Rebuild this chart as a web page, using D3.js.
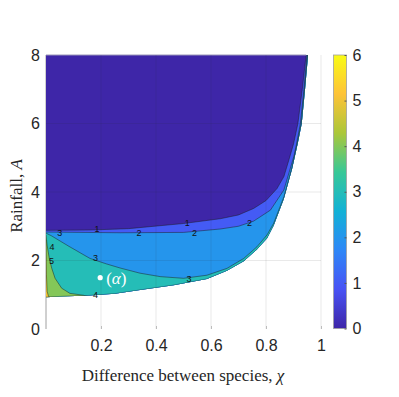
<!DOCTYPE html>
<html>
<head>
<meta charset="utf-8">
<script src="https://cdn.jsdelivr.net/npm/d3@7"></script>
<style>
  body { margin: 0; background: #fff; }
  svg { display: block; }
</style>
</head>
<body>
<svg width="399" height="397"></svg>
<script>
// Contour boundaries, [chi, A]
const lowerEdge = [[0, 0.93], [0.05, 0.95], [0.16, 0.98], [0.25, 1.03], [0.342, 1.14], [0.464, 1.28],
    [0.585, 1.46], [0.658, 1.7], [0.719, 1.98], [0.767, 2.32], [0.804, 2.65], [0.828, 3.02],
    [0.865, 3.8], [0.895, 4.68], [0.915, 5.4], [0.93, 6.0], [0.942, 7.0], [0.953, 8]];
const level1 = [[0, 2.88], [0.16, 2.89], [0.3, 2.93], [0.5, 3.08], [0.634, 3.22], [0.7, 3.33],
    [0.755, 3.52], [0.8, 3.75], [0.84, 4.1], [0.865, 4.45], [0.883, 4.93], [0.9, 5.4],
    [0.916, 6.0], [0.932, 7.0], [0.946, 8]];
const level2 = [[0, 2.83], [0.27, 2.81], [0.5, 2.82], [0.634, 2.92], [0.7, 3.0], [0.755, 3.15],
    [0.816, 3.47], [0.865, 4.06], [0.901, 5.03], [0.911, 5.4], [0.925, 6.0], [0.938, 7.0], [0.949, 8]];
const level3 = [[0, 2.8], [0.02, 2.72], [0.08, 2.43], [0.16, 2.06], [0.22, 1.9], [0.27, 1.78],
    [0.342, 1.63], [0.415, 1.53], [0.5, 1.48], [0.585, 1.57], [0.658, 1.77], [0.719, 2.06],
    [0.767, 2.4], [0.804, 2.75], [0.828, 3.09], [0.865, 3.86], [0.895, 4.74], [0.913, 5.4],
    [0.928, 6.0], [0.94, 7.0], [0.951, 8]];
const level4 = [[0, 2.75], [0.004, 2.45], [0.012, 2.06], [0.021, 1.77], [0.033, 1.48],
    [0.057, 1.19], [0.087, 1.04], [0.136, 0.985], [0.2, 0.85]];
const level5 = [[0, 2.6], [0.0015, 1.6], [0.004, 1.1], [0.009, 0.96], [0.02, 0.85]];
const levels = [level1, level2, level3, level4, level5];

// inline contour labels [chi, A, text]
const contourLabels = [[0.165, 2.92, "1"], [0.494, 3.1, "1"], [0.318, 2.79, "2"], [0.52, 2.8, "2"],
    [0.72, 3.1, "2"], [0.03, 2.8, "3"], [0.16, 2.06, "3"], [0.5, 1.46, "3"], [0.16, 0.98, "4"],
    [0.002, 2.4, "4"], [0.0, 2.0, "5"]];

const xTicks = [0.2, 0.4, 0.6, 0.8, 1];
const yTicks = [0, 2, 4, 6, 8];
const cbTicks = [0, 1, 2, 3, 4, 5, 6];

// parula anchors
const parula = [[62, 38, 168], [72, 82, 244], [46, 135, 247], [18, 177, 214],
    [55, 200, 151], [171, 199, 57], [254, 195, 56], [249, 251, 21]];

const svg = d3.select("svg");
const x = d3.scaleLinear().domain([0, 1]).range([46, 321]);
const y = d3.scaleLinear().domain([0, 8]).range([329, 55]);
const cb = d3.scaleLinear().domain([0, 6]).range([328.5, 55]);

const parulaAt = (t) => {
    const p = t * (parula.length - 1);
    const i = Math.min(Math.floor(p), parula.length - 2);
    const f = p - i;
    const c = parula[i].map((v, k) => Math.round(v + (parula[i + 1][k] - v) * f));
    return `rgb(${c[0]},${c[1]},${c[2]})`;
};

const line = d3.line().x(d => x(d[0])).y(d => y(d[1]));
const font = "'Liberation Sans', Arial, sans-serif";
const serif = "'Liberation Serif', 'Times New Roman', serif";

// clip to the region where the map is defined
const defs = svg.append("defs");
defs.append("clipPath").attr("id", "dom")
    .append("path")
    .attr("d", line(lowerEdge.concat([[0, 8]])) + "Z");

// y axis line underneath
svg.append("line")
    .attr("x1", x(0)).attr("x2", x(0))
    .attr("y1", y(0)).attr("y2", y(8))
    .attr("stroke", "#a0a0a0").attr("stroke-width", 1);

const map = svg.append("g").attr("clip-path", "url(#dom)");
map.append("rect")
    .attr("x", x(0)).attr("y", y(8))
    .attr("width", x(1) - x(0)).attr("height", y(0) - y(8))
    .attr("fill", parulaAt(0));

levels.forEach((pts, i) => {
    const first = pts[0], last = pts[pts.length - 1];
    const ring = pts.concat([[1.2, last[1]], [1.2, -1], [-0.1, -1], [-0.1, first[1]]]);
    map.append("path")
        .attr("d", line(ring) + "Z")
        .attr("fill", parulaAt((i + 1) / 6));
});

levels.forEach((pts) => {
    map.append("path")
        .attr("d", line(pts))
        .attr("fill", "none")
        .attr("stroke", "#1e1e1e")
        .attr("stroke-opacity", 0.8)
        .attr("stroke-width", 0.6);
});
map.append("path")
    .attr("d", line(lowerEdge))
    .attr("fill", "none")
    .attr("stroke", "#1e1e1e")
    .attr("stroke-opacity", 0.8)
    .attr("stroke-width", 0.6);

// top edge of the dark region
svg.append("line")
    .attr("x1", x(0)).attr("x2", x(level1[level1.length - 1][0]))
    .attr("y1", y(8)).attr("y2", y(8))
    .attr("stroke", "#9a96b8").attr("stroke-width", 1);

svg.append("g").selectAll("text")
    .data(contourLabels)
    .join("text")
    .attr("x", d => x(d[0]) + 3)
    .attr("y", d => y(d[1]) + 3)
    .attr("font-family", font)
    .attr("font-size", 9)
    .attr("fill", "#111")
    .text(d => d[2]);

// grid lines, faint, on top
const grid = svg.append("g").attr("stroke", "#262626").attr("stroke-opacity", 0.1);
xTicks.forEach(t => {
    grid.append("line").attr("x1", x(t)).attr("x2", x(t)).attr("y1", y(0)).attr("y2", y(8));
});
yTicks.slice(1, 4).forEach(t => {
    grid.append("line").attr("x1", x(0)).attr("x2", x(1)).attr("y1", y(t)).attr("y2", y(t));
});

// axes
const xAxis = svg.append("g")
    .attr("transform", `translate(0,${y(0)})`)
    .call(d3.axisBottom(x).tickValues(xTicks).tickSize(-3).tickPadding(11)
        .tickFormat(d3.format("")));
const yAxis = svg.append("g")
    .attr("transform", `translate(${x(0)},0)`)
    .call(d3.axisLeft(y).tickValues(yTicks).tickSize(0).tickPadding(6));
[xAxis, yAxis].forEach(a => {
    a.select(".domain").remove();
    a.selectAll("line").attr("stroke", "#bdbdbd");
    a.selectAll("text").attr("font-family", font).attr("font-size", 16).attr("fill", "#262626");
});

// axis titles
const xt = svg.append("text")
    .attr("x", 183).attr("y", 381)
    .attr("text-anchor", "middle")
    .attr("font-family", serif).attr("font-size", 17).attr("fill", "#262626");
xt.append("tspan").text("Difference between species, ");
xt.append("tspan").attr("font-style", "italic").text("χ");

const yt = svg.append("text")
    .attr("transform", "translate(22,196) rotate(-90)")
    .attr("text-anchor", "middle")
    .attr("font-family", serif).attr("font-size", 17).attr("fill", "#262626");
yt.append("tspan").text("Rainfall, ");
yt.append("tspan").attr("font-style", "italic").text("A");

// point (alpha)
svg.append("circle")
    .attr("cx", x(0.197)).attr("cy", y(1.5)).attr("r", 2.6)
    .attr("fill", "#fff");
const al = svg.append("text")
    .attr("x", x(0.197) + 6).attr("y", y(1.5) + 6)
    .attr("font-family", serif).attr("font-size", 17).attr("fill", "#fff");
al.append("tspan").text("(");
al.append("tspan").attr("font-style", "italic").text("α");
al.append("tspan").text(")");

// colorbar
const grad = defs.append("linearGradient").attr("id", "parula")
    .attr("x1", 0).attr("y1", 1).attr("x2", 0).attr("y2", 0);
d3.range(0, 1.0001, 1 / 28).forEach(t => {
    grad.append("stop").attr("offset", t).attr("stop-color", parulaAt(t));
});
svg.append("rect")
    .attr("x", 333.5).attr("y", cb(6))
    .attr("width", 13).attr("height", cb(0) - cb(6))
    .attr("fill", "url(#parula)")
    .attr("stroke", "#a0a0a0").attr("stroke-width", 0.8);
const cAxis = svg.append("g")
    .attr("transform", "translate(346.5,0)")
    .call(d3.axisRight(cb).tickValues(cbTicks).tickSize(-2).tickPadding(6)
        .tickFormat(d3.format("d")));
cAxis.select(".domain").remove();
cAxis.selectAll("line").attr("stroke", "#555");
cAxis.selectAll("text").attr("font-family", font).attr("font-size", 16).attr("fill", "#262626");
</script>
</body>
</html>
